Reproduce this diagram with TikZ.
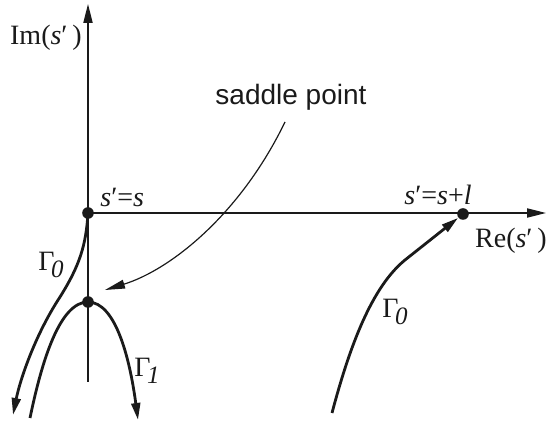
\documentclass[tikz,border=0pt]{standalone}
\usepackage{fontspec}
\setmainfont{Liberation Serif}
\newfontfamily\labelsans{Liberation Sans}
\usetikzlibrary{arrows.meta,positioning}
\definecolor{axInk}{HTML}{1A1A1A}
\newcommand{\Gsub}[1]{Γ\kern-0.12em\raisebox{-0.5ex}{\fontsize{12.5}{14}\selectfont\textit{#1}}}
\tikzset{
  axisln/.style={draw=axInk, line width=0.7pt, -{Triangle[length=9.5pt,width=4.6pt]}},
  contour/.style={draw=axInk, line width=1.4pt},
  contarr/.style={contour, -{Triangle[length=8.5pt,width=4.4pt]}},
  pointer/.style={draw=axInk, line width=0.6pt, -{Triangle[length=10pt,width=4.4pt]}},
  dotn/.style={circle, fill=axInk, inner sep=0pt, minimum size=5.8pt},
  lbl/.style={font=\fontsize{14}{16}\selectfont, inner sep=1pt, text=axInk},
  sanslbl/.style={lbl, font=\labelsans\fontsize{14}{16}\selectfont},
}

\begin{document}
\begin{tikzpicture}[x=0.5pt,y=-0.5pt]
  \useasboundingbox (0,0) rectangle (547,426);
  % axes
  \coordinate (ybot) at (88,382);
  \coordinate (ytop) at (88,4);
  \coordinate (xend) at (546,213);
  \node[dotn] (o) at (88,213) {};
  \node[dotn] (sp) at (88,302) {};
  \node[dotn] (e) at (463,214) {};
  \draw[axisln] (ybot) -- (ytop);
  \draw[axisln] (o.center) -- (xend);
  % labels
  \node[lbl, anchor=east] (im) at (84,38) {Im(\textit{s}′\,)};
  \node[lbl, anchor=west] (os) at (98,197) {\textit{s}′=\textit{s}};
  \node[lbl] (es) at (438,195) {\textit{s}′=\textit{s}+\textit{l}};
  \node[lbl, anchor=east] (re) at (549,241) {Re(\textit{s}′\,)};
  \node[sanslbl] (sadl) at (291,97) {saddle point};
  % saddle pointer
  \coordinate (ptail) at (285,122);
  \draw[pointer] (ptail) .. controls (240,215) and (170,270) .. ([xshift=8.5pt,yshift=6pt]sp.center);
  % left Gamma_0
  \coordinate (g0end) at (13,415);
  \draw[contarr] (o.center) .. controls (86,245) and (80,265) .. (60,297)
    .. controls (35,335) and (20,380) .. (g0end);
  \node[lbl] (g0a) at (51,265) {\Gsub{0}};
  % Gamma_1
  \coordinate (g1a) at (30,418);
  \coordinate (g1b) at (138,420);
  \draw[contarr] (g1a) .. controls (42,360) and (60,302) .. (sp.center)
    .. controls (116,302) and (130,360) .. (g1b);
  \node[lbl] (g1) at (147,371) {\Gsub{1}};
  % right Gamma_0
  \coordinate (g0s) at (332,413);
  \draw[contarr] (g0s) .. controls (350,345) and (372,287) .. (405,260) -- (e);
  \node[lbl] (g0b) at (395,312) {\Gsub{0}};
\end{tikzpicture}
\end{document}
